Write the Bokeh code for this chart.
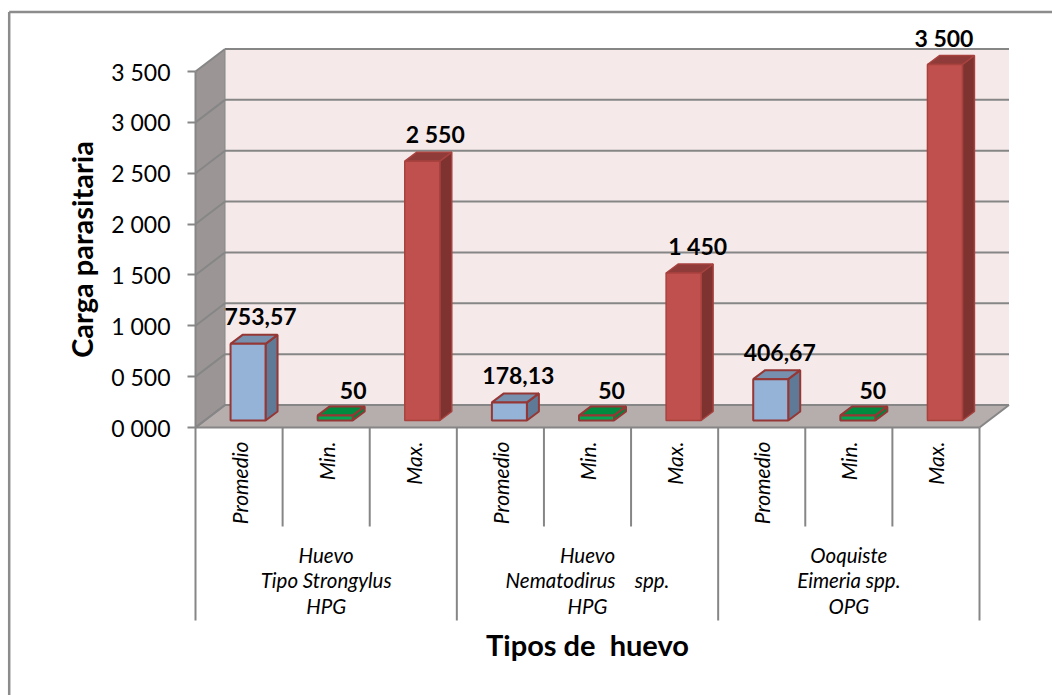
from bokeh.plotting import figure
from bokeh.embed import file_html
from bokeh.resources import INLINE
from bokeh.core.properties import value
from bokeh.models import Range1d, LinearAxis, FixedTicker
import math

# --- data
categories = ["Promedio", "Min.", "Max.", "Promedio", "Min.", "Max.", "Promedio", "Min.", "Max."]
values = [753.57, 50, 2550, 178.13, 50, 1450, 406.67, 50, 3500]
value_labels = ["753,57", "50", "2 550", "178,13", "50", "1 450", "406,67", "50", "3 500"]
groups = ["Huevo\nTipo Strongylus\nHPG", "Huevo\nNematodirus\u00a0\u00a0\u00a0 spp.\nHPG", "Ooquiste\nEimeria spp.\nOPG"]
y_ticks = [0, 500, 1000, 1500, 2000, 2500, 3000, 3500]
y_tick_labels = ["0 000", "0 500", "1 000", "1 500", "2 000", "2 500", "3 000", "3 500"]

# --- layout (pixels on the figure, converted by the scale)
FW, FH = 1052, 695
ORIGIN_PX, ORIGIN_PY = 195, 427      # where category 0 / value 0 sit
PX_CAT = 784 / 9
PX_VAL = 356 / 3500
DEPTH_X, DEPTH_Y = 29.5, 22.5
BAR_W, BAR_DX, BAR_DY = 35, 12, 9
SHIFT_X, SHIFT_Y = 9, 7
label_dx = [12.5, 18, 13, 9, 15, 14, 9, 15, -1]
label_gap = [27, 25, 27, 27, 25, 27, 27, 25, 27]

dx = lambda px: px / PX_CAT
dy = lambda px: px / PX_VAL

GRID = "#868686"
FONT = "Lato"

p = figure(width=FW, height=FH, output_backend="svg", toolbar_location=None, tools="",
           min_border=0, x_axis_type=None, y_axis_type=None,
           x_range=Range1d(dx(-ORIGIN_PX), dx(FW - ORIGIN_PX)),
           y_range=Range1d(dy(ORIGIN_PY - FH), dy(ORIGIN_PY)))
p.outline_line_color = None
p.grid.visible = False
p.background_fill_color = "white"
p.border_fill_color = "white"

ncat = len(categories)
x0, y0 = dx(ORIGIN_PX), dy(ORIGIN_PY)
ddx, ddy = dx(DEPTH_X), dy(DEPTH_Y)
top = y_ticks[-1]

# outer chart border: left and top only
p.segment([-x0 + dx(8.7)], [dy(ORIGIN_PY - FH)], [-x0 + dx(8.7)], [y0 - dy(11.5)], line_color="#8c8c8c", line_width=2.5)
p.segment([-x0 + dx(8.7)], [y0 - dy(11.5)], [dx(FW - ORIGIN_PX)], [y0 - dy(11.5)], line_color="#8c8c8c", line_width=2.5)

# walls and floor
p.patch([ddx, ncat + ddx, ncat + ddx, ddx], [ddy, ddy, top + ddy, top + ddy], fill_color="#F5E9E9", line_color=None)
p.patch([0, ddx, ddx, 0], [0, ddy, top + ddy, top], fill_color="#9B9695", line_color=None)
p.patch([0, ncat, ncat + ddx, ddx], [0, 0, ddy, ddy], fill_color="#B6ADAD", line_color=None)

# gridlines on side wall and back wall, floor outline
p.segment([ddx] * len(y_ticks), [t + ddy for t in y_ticks], [ncat + ddx] * len(y_ticks), [t + ddy for t in y_ticks],
          line_color=GRID, line_width=2)
p.segment([0] * len(y_ticks), y_ticks, [ddx] * len(y_ticks), [t + ddy for t in y_ticks], line_color=GRID, line_width=2)
p.line([ddx, ddx], [ddy, top + ddy], line_color=GRID, line_width=1)
p.line([0, ddx], [0, ddy], line_color=GRID, line_width=2)
p.line([ncat, ncat + ddx], [0, ddy], line_color=GRID, line_width=2)

# bars
front = ["#95B3D7", "#00A651", "#C0504D"]
side = ["#5F7A97", "#00843D", "#7F3331"]
roof = ["#7690AE", "#008A40", "#8F3B39"]
edge = ["#953735", "#953735", "#A8423F"]
width = [2, 2, 1.5]
for i, v in enumerate(values):
    s = i % 3
    l = i + 0.5 + dx(SHIFT_X) - dx(BAR_W) / 2
    r = l + dx(BAR_W)
    b = dy(SHIFT_Y)
    t = b + v
    ox, oy = dx(BAR_DX), dy(BAR_DY)
    p.patch([r, r + ox, r + ox, r], [b, b + oy, t + oy, t], fill_color=side[s], line_color=edge[s], line_width=width[s])
    p.patch([l, r, r + ox, l + ox], [t, t, t + oy, t + oy], fill_color=roof[s], line_color=edge[s], line_width=width[s])
    p.quad(left=l, right=r, bottom=b, top=t, fill_color=front[s], line_color=edge[s], line_width=width[s])

# value labels
p.text([i + 0.5 + dx(SHIFT_X) + dx(label_dx[i]) for i in range(ncat)],
       [dy(SHIFT_Y) + values[i] + dy(label_gap[i]) for i in range(ncat)],
       text=value_labels, text_font=value(FONT), text_font_style="bold", text_font_size="23px",
       text_color="black", text_align="center", text_baseline="middle")

# category separators
p.segment([i for i in range(ncat + 1)], [0] * (ncat + 1), [i for i in range(ncat + 1)],
          [dy(-193) if i % 3 == 0 else dy(-99) for i in range(ncat + 1)], line_color=GRID, line_width=2)

# group labels
p.text([1.5 + 3 * g for g in range(len(groups))], [dy(-153)] * len(groups), text=groups,
       text_font=value(FONT), text_font_style="italic", text_font_size="20.5px", text_color="black",
       text_align="center", text_baseline="middle", text_line_height=1.05)

# y axis
ya = LinearAxis(fixed_location=0, bounds=(0, top), ticker=FixedTicker(ticks=y_ticks))
ya.major_label_overrides = dict(zip(y_ticks, y_tick_labels))
ya.major_label_text_font = FONT
ya.major_label_text_font_size = "23px"
ya.major_label_text_color = "black"
ya.major_label_standoff = 17
ya.axis_line_color = GRID
ya.axis_line_width = 2
ya.major_tick_line_color = GRID
ya.major_tick_line_width = 2
ya.major_tick_out = 8
ya.major_tick_in = 0
ya.minor_tick_line_color = None
ya.axis_label = "Carga parasitaria"
ya.axis_label_text_font = FONT
ya.axis_label_text_font_style = "bold"
ya.axis_label_text_font_size = "29px"
ya.axis_label_text_color = "black"
ya.axis_label_standoff = 9
p.add_layout(ya, "left")

# x axis
xa = LinearAxis(fixed_location=0, bounds=(0, ncat), ticker=FixedTicker(ticks=[i + 0.5 for i in range(ncat)]))
xa.major_label_overrides = {i + 0.5: c for i, c in enumerate(categories)}
xa.major_label_orientation = math.pi / 2
xa.major_label_text_font = FONT
xa.major_label_text_font_style = "italic"
xa.major_label_text_font_size = "21px"
xa.major_label_text_color = "black"
xa.major_label_standoff = 8
xa.axis_line_color = GRID
xa.axis_line_width = 2
xa.major_tick_line_color = None
xa.minor_tick_line_color = None
xa.axis_label = "Tipos de \u00a0huevo"
xa.axis_label_text_font = FONT
xa.axis_label_text_font_style = "bold"
xa.axis_label_text_font_size = "29px"
xa.axis_label_text_color = "black"
xa.axis_label_standoff = 100
p.add_layout(xa, "below")

open("out.html", "w").write(file_html(p, INLINE))
